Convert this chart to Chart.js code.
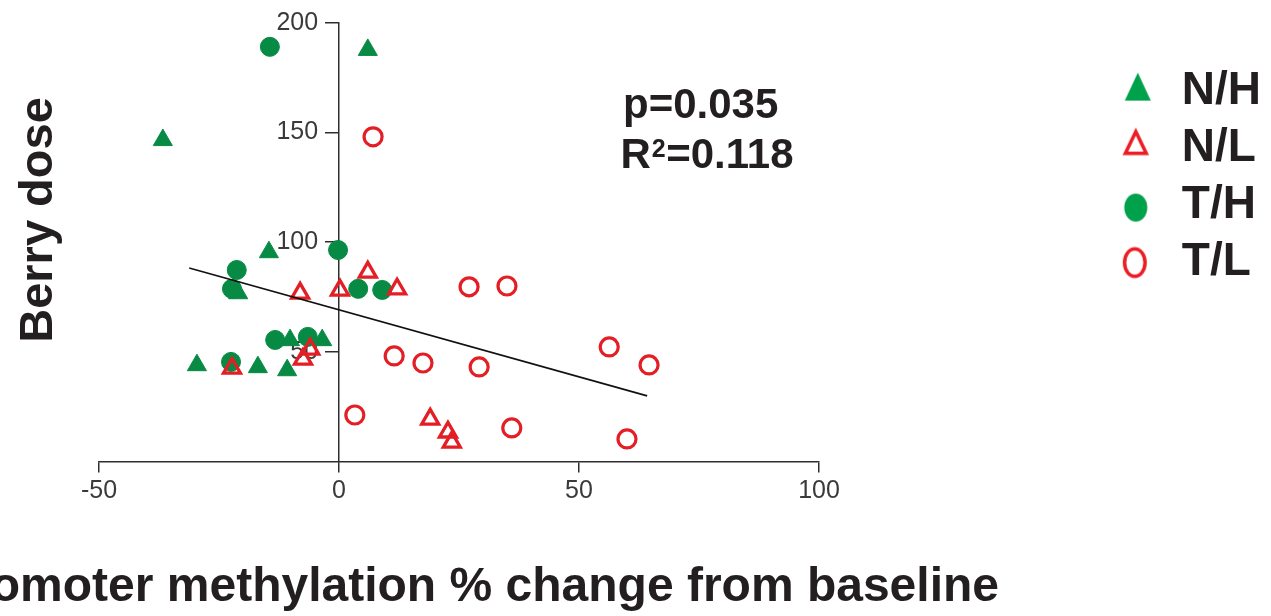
<!DOCTYPE html>
<html><head><meta charset="utf-8">
<script src="https://cdn.jsdelivr.net/npm/chart.js@4.4.1/dist/chart.umd.min.js"></script>
<style>html,body{margin:0;padding:0;background:#fff;} canvas{display:block;}</style>
</head><body>
<canvas id="c" width="1271" height="616"></canvas>
<script>
const FONT = '"Liberation Sans", Arial, Helvetica, sans-serif';

// ---- data ----
const seriesLabels = ['N/H', 'N/L', 'T/H', 'T/L'];
const nhX = [-36.7, 6.0, -14.6, -21.0, -10.2, -3.5, -29.6, -16.9, -10.8];
const nhY = [146.5, 187.6, 95.4, 76.7, 55.3, 55.3, 43.9, 43.0, 41.6];
const nlX = [-8.1, 0.2, 6.0, 12.1, -6.0, -7.5, -22.3, 19.0, 22.7, 23.5];
const nlY = [76.7, 78.1, 86.3, 78.6, 51.2, 46.6, 42.5, 19.3, 13.4, 8.8];
const thX = [-14.4, -0.2, -21.3, -22.3, -13.3, -6.5, 4.0, 9.0, -22.5];
const thY = [189.0, 96.4, 87.3, 78.7, 55.4, 56.8, 78.7, 78.2, 45.4];
const tlX = [7.1, 27.1, 35.0, 11.5, 17.5, 29.2, 56.3, 64.6, 3.3, 36.0, 60.0];
const tlY = [148.0, 79.6, 80.0, 48.1, 44.9, 43.1, 52.2, 44.0, 21.2, 15.3, 10.3];
const fitX = [-31.2, 64.2];
const fitY = [88.2, 29.9];
const xTicks = [-50, 0, 50, 100];
const yTicks = [50, 100, 150, 200];
const statP = 'p=0.035';
const statR = ['R', '2', '=0.118'];
const xTitle = 'Promoter methylation % change from baseline';
const yTitle = 'Berry dose';

const GREEN = '#078a44', RED = '#e31e25';
const LGREEN = '#00a14b', LRED = '#ed1c24';
const INK = '#231f20', AXIS = '#2e2e2e';

const pts = (xs, ys) => xs.map((x, i) => ({x, y: ys[i]}));

// legend icons
function icon(kind, w, h, dx, dy, color, lw) {
  const c = document.createElement('canvas');
  c.width = 64; c.height = 64;
  const g = c.getContext('2d');
  const cx = 32 + dx, cy = 32 + dy;
  g.beginPath();
  if (kind === 'tri') {
    if (lw) {
      g.moveTo(cx, cy - h / 2 + lw);
      g.lineTo(cx + w / 2 - 0.87 * lw, cy + h / 2 - lw / 2);
      g.lineTo(cx - w / 2 + 0.87 * lw, cy + h / 2 - lw / 2);
    } else {
      g.moveTo(cx, cy - h / 2);
      g.lineTo(cx + w / 2, cy + h / 2);
      g.lineTo(cx - w / 2, cy + h / 2);
    }
    g.closePath();
  } else {
    const i = lw ? lw / 2 : 0;
    g.ellipse(cx, cy, w / 2 - i, h / 2 - i, 0, 0, Math.PI * 2);
  }
  if (lw) { g.lineWidth = lw; g.strokeStyle = color; g.lineJoin = 'miter'; g.stroke(); }
  else { g.fillStyle = color; g.fill(); }
  return c;
}
const icons = [
  icon('tri', 26, 28, 2, -5, LGREEN, 0),
  icon('tri', 27, 27, 0, -7, LRED, 3.5),
  icon('ell', 23, 28, 0, 2, LGREEN, 0),
  icon('ell', 24, 31, -1, 0, LRED, 3.5)
];

const LEG_FONT = {family: FONT, size: 46, weight: 'bold'};
const LEG_PAD = 11;

const textPlugin = {
  id: 'texts',
  afterDraw(chart) {
    const ctx = chart.ctx;
    ctx.save();
    ctx.fillStyle = INK;
    ctx.textBaseline = 'alphabetic';
    // y title
    ctx.save();
    ctx.font = `bold 47px ${FONT}`;
    ctx.textAlign = 'center';
    ctx.translate(52, 220);
    ctx.rotate(-Math.PI / 2);
    ctx.fillText(yTitle, 0, 0);
    ctx.restore();
    // x title
    ctx.font = `bold 48px ${FONT}`;
    ctx.textAlign = 'right';
    ctx.fillText(xTitle, 999, 601);
    // stats
    ctx.textAlign = 'left';
    ctx.font = `bold 42px ${FONT}`;
    ctx.fillText(statP, 623, 118);
    let x = 620.5;
    ctx.fillText(statR[0], x, 168);
    x += ctx.measureText(statR[0]).width + 1;
    ctx.font = `bold 25px ${FONT}`;
    ctx.fillText(statR[1], x, 157);
    x += ctx.measureText(statR[1]).width + 0.5;
    ctx.font = `bold 42px ${FONT}`;
    ctx.fillText(statR[2], x, 168);
    ctx.restore();
  }
};

new Chart(document.getElementById('c'), {
  type: 'scatter',
  data: {
    datasets: [
      {type: 'line', label: 'fit', data: pts(fitX, fitY), borderColor: '#111', borderWidth: 1.7,
       pointRadius: 0, fill: false, showLine: true, xAxisID: 'x', yAxisID: 'y'},
      {label: seriesLabels[1], data: pts(nlX, nlY), pointStyle: 'triangle', pointRadius: 9.8,
       backgroundColor: 'rgba(255,255,255,0)', borderColor: RED, borderWidth: 3.3, xAxisID: 'x', yAxisID: 'y'},
      {label: seriesLabels[3], data: pts(tlX, tlY), pointStyle: 'circle', pointRadius: 9,
       backgroundColor: 'rgba(255,255,255,0)', borderColor: RED, borderWidth: 3.2, xAxisID: 'x', yAxisID: 'y'},
      {label: seriesLabels[0], data: pts(nhX, nhY), pointStyle: 'triangle', pointRadius: 11,
       backgroundColor: GREEN, borderColor: GREEN, borderWidth: 1, xAxisID: 'x', yAxisID: 'y'},
      {label: seriesLabels[2], data: pts(thX, thY), pointStyle: 'circle', pointRadius: 9.5,
       backgroundColor: GREEN, borderColor: GREEN, borderWidth: 1, xAxisID: 'x', yAxisID: 'y'}
    ]
  },
  options: {
    responsive: false,
    animation: false,
    events: [],
    devicePixelRatio: 1,
    layout: {padding: {left: 99, top: 22.7, right: 0, bottom: 104.5}},
    scales: {
      y: {
        type: 'linear', min: 0, max: 200, position: {x: 0},
        afterBuildTicks: s => { s.ticks = yTicks.map(v => ({value: v})); },
        afterFit: s => { s.width = 0; },
        grid: {drawOnChartArea: false, drawTicks: true, tickLength: 13, color: AXIS, lineWidth: 1.5},
        border: {display: true, color: AXIS, width: 1.5},
        ticks: {
          color: '#3a3a3a', font: {family: FONT, size: 25},
          // labels sit left of the tick marks (tick 13px + gap)
          callback: v => String(v) + '   '
        }
      },
      x: {
        type: 'linear', min: -50, max: 100, position: 'bottom',
        afterBuildTicks: s => { s.ticks = xTicks.map(v => ({value: v})); },
        afterFit: s => { s.height = 50; },
        grid: {drawOnChartArea: false, drawTicks: true, tickLength: 11, color: AXIS, lineWidth: 1.5},
        border: {display: true, color: AXIS, width: 1.5},
        ticks: {color: '#3a3a3a', font: {family: FONT, size: 25}, padding: 4, maxRotation: 0}
      },
      gap: {
        type: 'linear', axis: 'y', position: 'right', display: true,
        grid: {display: false}, border: {display: false}, ticks: {display: false},
        afterFit: s => {
          const ctx = s.ctx;
          ctx.save();
          ctx.font = `bold ${LEG_FONT.size}px ${FONT}`;
          const tw = Math.max(...seriesLabels.map(t => ctx.measureText(t).width));
          ctx.restore();
          const legendW = LEG_PAD + LEG_FONT.size + LEG_FONT.size / 2 + tw + 10;
          s.width = Math.max(0, s.chart.width - legendW - 819);
        }
      }
    },
    plugins: {
      tooltip: {enabled: false},
      legend: {
        position: 'right',
        align: 'start',
        title: {display: true, text: '', font: {size: 12, lineHeight: 1.2}, padding: {top: 20.5, bottom: 0}},
        labels: {
          usePointStyle: true,
          font: LEG_FONT,
          color: INK,
          padding: LEG_PAD,
          boxWidth: 46,
          boxHeight: 46,
          generateLabels: chart => {
            const order = [3, 1, 4, 2];
            return order.map((di, k) => ({
              text: chart.data.datasets[di].label,
              pointStyle: icons[k],
              fillStyle: 'rgba(0,0,0,0)',
              strokeStyle: 'rgba(0,0,0,0)',
              lineWidth: 0,
              hidden: false,
              fontColor: INK,
              datasetIndex: di
            }));
          }
        }
      }
    }
  },
  plugins: [textPlugin]
});
</script>
</body></html>
